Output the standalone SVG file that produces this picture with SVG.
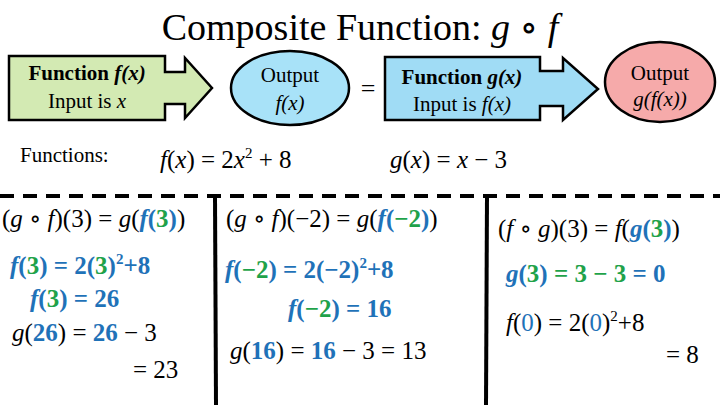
<svg xmlns="http://www.w3.org/2000/svg" width="720" height="405" viewBox="0 0 720 405" xml:space="preserve">
<style>
text{font-family:"Liberation Serif","Times New Roman",Tinos,"DejaVu Serif",serif;fill:#000}
.m{font-size:25px}
.i{font-style:italic}
.b{fill:#1f72b8;font-weight:bold}
.g{fill:#1fa24a;font-weight:bold}
.lb{font-size:21px}
.sh{stroke:#000;stroke-width:2.5}
</style>
<rect width="720" height="405" fill="#fff"/>
<text x="360" y="40" font-size="38" text-anchor="middle">Composite Function: <tspan class="i">g</tspan> ∘ <tspan class="i">f</tspan></text>
<g id="connectors">
<line x1="0" y1="196" x2="720" y2="196" stroke="#000" stroke-width="4" stroke-dasharray="14 9"/>
<line x1="215" y1="196" x2="216" y2="405" stroke="#000" stroke-width="4"/>
<line x1="487" y1="196" x2="486" y2="405" stroke="#000" stroke-width="4"/>
</g>
<g id="funcF">
<path class="sh" fill="#d3eab3" d="M9,56H165V72H185V58L212,88L185,118V104H165V120H9Z"/>
<text x="87" y="80" text-anchor="middle" class="lb" font-weight="bold">Function <tspan class="i">f(x)</tspan></text>
<text x="87" y="108" text-anchor="middle" class="lb">Input is <tspan class="i">x</tspan></text>
</g>
<g id="outF">
<ellipse class="sh" cx="290" cy="88" rx="59" ry="37" fill="#a8e2f8"/>
<text x="290" y="82" text-anchor="middle" class="lb">Output</text>
<text x="290" y="110" text-anchor="middle" class="lb i">f(x)</text>
</g>
<text x="368" y="97" text-anchor="middle" font-size="26">=</text>
<g id="funcG">
<path class="sh" fill="#a0dcf5" d="M385,57H540V71H563V58L598,89L563,120V106H540V120H385Z"/>
<text x="462" y="84" text-anchor="middle" class="lb" font-weight="bold">Function <tspan class="i">g(x)</tspan></text>
<text x="462" y="111" text-anchor="middle" class="lb">Input is <tspan class="i">f(x)</tspan></text>
</g>
<g id="outG">
<ellipse class="sh" cx="660" cy="82" rx="55" ry="40" fill="#f6aaaa"/>
<text x="660" y="80" text-anchor="middle" class="lb">Output</text>
<text x="660" y="106" text-anchor="middle" class="lb i">g(f(x))</text>
</g>
<text x="20" y="162" class="lb">Functions:</text>
<text x="160" y="168" class="m"><tspan class="i">f</tspan>(<tspan class="i">x</tspan>) = 2<tspan class="i">x</tspan><tspan font-size="15" dy="-10">2</tspan><tspan dy="10"> + 8</tspan></text>
<text x="390" y="168" class="m"><tspan class="i">g</tspan>(<tspan class="i">x</tspan>) = <tspan class="i">x</tspan> − 3</text>

<text x="2" y="227" class="m">(<tspan class="i">g</tspan> ∘ <tspan class="i">f</tspan>)(3) = <tspan class="i">g</tspan>(<tspan class="b i">f</tspan><tspan class="b">(</tspan><tspan class="g">3</tspan><tspan class="b">)</tspan>)</text>
<text x="10" y="274" class="m"><tspan class="b i">f</tspan><tspan class="b">(</tspan><tspan class="g">3</tspan><tspan class="b">) = 2(</tspan><tspan class="g">3</tspan><tspan class="b">)</tspan><tspan class="b" font-size="15" dy="-10">2</tspan><tspan class="b" dy="10">+8</tspan></text>
<text x="30" y="307" class="m"><tspan class="b i">f</tspan><tspan class="b">(</tspan><tspan class="g">3</tspan><tspan class="b">) = 26</tspan></text>
<text x="12" y="341" class="m"><tspan class="i">g</tspan>(<tspan class="b">26</tspan>) = <tspan class="b">26</tspan> − 3</text>
<text x="133" y="378" class="m">= 23</text>

<text x="226" y="227" class="m">(<tspan class="i">g</tspan> ∘ <tspan class="i">f</tspan>)(−2) = <tspan class="i">g</tspan>(<tspan class="b i">f</tspan><tspan class="b">(</tspan><tspan class="g">−2</tspan><tspan class="b">)</tspan>)</text>
<text x="225" y="278" class="m"><tspan class="b i">f</tspan><tspan class="b">(</tspan><tspan class="g">−2</tspan><tspan class="b">) = 2(−2)</tspan><tspan class="b" font-size="15" dy="-10">2</tspan><tspan class="b" dy="10">+8</tspan></text>
<text x="288" y="317" class="m"><tspan class="b i">f</tspan><tspan class="b">(</tspan><tspan class="g">−2</tspan><tspan class="b">) = 16</tspan></text>
<text x="230" y="359" class="m"><tspan class="i">g</tspan>(<tspan class="b">16</tspan>) = <tspan class="b">16</tspan> − 3  = 13</text>

<text x="498" y="237" class="m">(<tspan class="i">f</tspan> ∘ <tspan class="i">g</tspan>)(3) = <tspan class="i">f</tspan>(<tspan class="b i">g</tspan><tspan class="b">(</tspan><tspan class="g">3</tspan><tspan class="b">)</tspan>)</text>
<text x="506" y="282" class="m"><tspan class="b i">g</tspan><tspan class="b">(</tspan><tspan class="g">3</tspan><tspan class="b">)</tspan><tspan class="g"> = 3 − 3  </tspan><tspan class="b">= 0</tspan></text>
<text x="506" y="331" class="m"><tspan class="i">f</tspan>(<tspan fill="#1f72b8">0</tspan>) = 2(<tspan fill="#1f72b8">0</tspan>)<tspan font-size="15" dy="-10">2</tspan><tspan dy="10">+8</tspan></text>
<text x="666" y="363" class="m">= 8</text>
</svg>
